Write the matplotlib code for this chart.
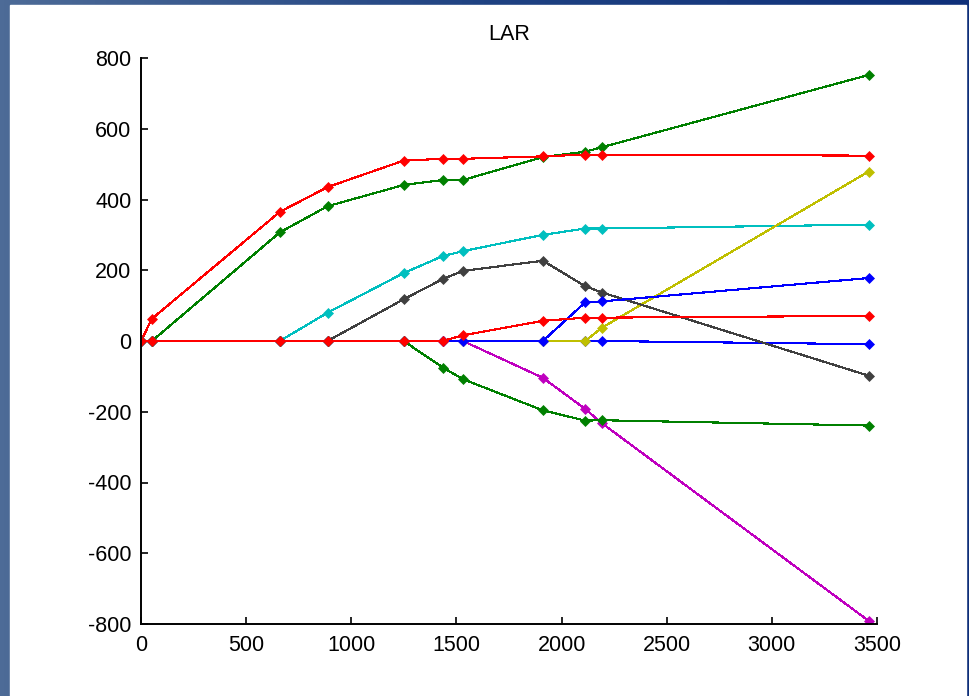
import numpy as np
import matplotlib
matplotlib.use('Agg')
import matplotlib.pyplot as plt

plt.rcParams['axes.unicode_minus'] = False
FONT = 'Liberation Sans'

# L1 norm of coefficients at each LAR step
steps = [0, 52, 660, 887, 1249, 1435, 1531, 1911, 2112, 2193, 3460]

# coefficient paths, in plotting order
blue_low = [0, 0, 0, 0, 0, 0, 0, 0, 0, 0, -9]
green_top = [0, 0, 307, 381, 441, 455, 455, 520, 535, 548, 752]
red_top = [0, 63, 365, 435, 510, 515, 515, 522, 527, 527, 524]
cyan = [0, 0, 0, 80, 192, 240, 254, 300, 318, 318, 329]
magenta = [0, 0, 0, 0, 0, 0, 0, -104, -192, -233, -791]
yellow = [0, 0, 0, 0, 0, 0, 0, 0, 0, 38, 479]
gray = [0, 0, 0, 0, 118, 175, 198, 227, 155, 137, -98]
blue_up = [0, 0, 0, 0, 0, 0, 0, 0, 109, 112, 178]
green_neg = [0, 0, 0, 0, 0, -75, -108, -196, -225, -224, -239]
red_low = [0, 0, 0, 0, 0, 0, 16, 57, 66, 66, 71]

paths = [blue_low, green_top, red_top, cyan, magenta, yellow, gray,
         blue_up, green_neg, red_low]
colors = ['#0000ff', '#008000', '#ff0000', '#00bfbf', '#bf00bf', '#bfbf00',
          '#404040', '#0000ff', '#008000', '#ff0000']

W, H = 969, 696
fig = plt.figure(figsize=(W / 100, H / 100), dpi=100)

# slide background: blue gradient frame, white plot area
bg = fig.add_axes([0, 0, 1, 1], zorder=-10)
grad = np.linspace(0, 1, 256)[None, :]
bg.imshow(grad, aspect='auto', extent=[0, 1, 0, 1],
          cmap=matplotlib.colors.LinearSegmentedColormap.from_list(
              'slide', ['#4d6b97', '#1f4282', '#0f307a']))
bg.add_patch(plt.Rectangle((10 / W, 0), (966 - 10) / W, 1 - 5 / H,
                           color='white', transform=bg.transAxes))
bg.set_xlim(0, 1)
bg.set_ylim(0, 1)
bg.axis('off')

ax = fig.add_axes([141 / W, (H - 624) / H, (877 - 141) / W, (624 - 58) / H])
ax.patch.set_visible(False)

for vals, c in zip(paths, colors):
    ax.plot(steps, vals, color=c, lw=0.8, marker='D', markersize=5,
            markeredgewidth=0.5, markerfacecolor=c, markeredgecolor=c,
            antialiased=False)

ax.set_xlim(0, 3500)
ax.set_ylim(-800, 800)
ax.set_xticks(range(0, 3501, 500))
ax.set_yticks(range(-800, 801, 200))
ax.spines['top'].set_visible(False)
ax.spines['right'].set_visible(False)
ax.spines['left'].set_linewidth(1.4)
ax.spines['bottom'].set_linewidth(1.4)
ax.tick_params(direction='in', length=5, width=1.2, labelsize=15.5)
ax.tick_params(axis='x', pad=8)
ax.tick_params(axis='y', pad=7)
for lab in ax.get_xticklabels() + ax.get_yticklabels():
    lab.set_fontfamily(FONT)
ax.set_title('LAR', fontsize=15.5, fontfamily=FONT, pad=13)

fig.savefig('out.png', dpi=100)
